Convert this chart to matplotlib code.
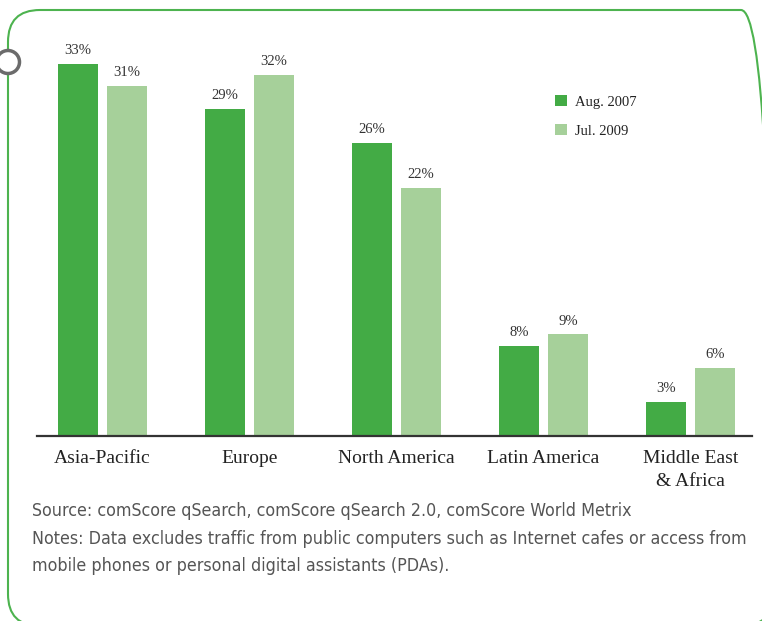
import matplotlib.pyplot as plt
import numpy as np
from matplotlib.patches import FancyBboxPatch, Circle

regions = ['Asia-Pacific', 'Europe', 'North America', 'Latin America', 'Middle East\n& Africa']
aug_2007 = [33, 29, 26, 8, 3]
jul_2009 = [31, 32, 22, 9, 6]
series_names = ['Aug. 2007', 'Jul. 2009']

dark_green = '#43ab45'
light_green = '#a6d09a'
serif = ['Liberation Serif', 'DejaVu Serif']

W, H = 762, 621
fig = plt.figure(figsize=(W / 100, H / 100), dpi=100)

# overlay in pixel units (origin bottom-left) for the frame and the ring
bg = fig.add_axes([0, 0, 1, 1])
bg.set_xlim(0, W)
bg.set_ylim(0, H)
bg.axis('off')
bg.add_patch(FancyBboxPatch((8, H - 626), 765, 616,
                            boxstyle='round,pad=0,rounding_size=32',
                            fill=False, edgecolor='#4db34f', linewidth=1.5))
bg.add_patch(Circle((8, H - 62), 11.5, facecolor='white',
                    edgecolor='#6b6b6b', linewidth=2.5, zorder=5))

# axes: baseline at y=436px, 11.28 px per percent point
px_per_pct = 11.28
ymax = 35
ax = fig.add_axes([37 / W, (H - 436) / H, 715 / W, ymax * px_per_pct / H])
ax.set_ylim(0, ymax)
ax.patch.set_visible(False)

x = np.arange(len(regions))
step = 147
ax.set_xlim((37 - 102.5) / step, (752 - 102.5) / step)
width = 40 / step
off = 24.5 / step

b1 = ax.bar(x - off, aug_2007, width, color=dark_green, label=series_names[0])
b2 = ax.bar(x + off, jul_2009, width, color=light_green, label=series_names[1])

for bars, vals in ((b1, aug_2007), (b2, jul_2009)):
    for r, v in zip(bars, vals):
        ax.annotate(f'{v}%', (r.get_x() + r.get_width() / 2, v),
                    xytext=(0, 5), textcoords='offset points',
                    ha='center', va='bottom', fontsize=10.5,
                    family=serif, color='#333333')

ax.set_xticks(x)
ax.set_xticklabels(regions, family=serif, fontsize=14, color='#222222',
                   linespacing=1.45)
ax.tick_params(axis='x', length=0, pad=10)
ax.set_yticks([])
for s in ('top', 'right', 'left'):
    ax.spines[s].set_visible(False)
ax.spines['bottom'].set_color('#333333')
ax.spines['bottom'].set_linewidth(1.6)

leg = ax.legend(loc='upper left', bbox_to_anchor=(555 / W, 1 - 95 / H),
                bbox_transform=fig.transFigure, frameon=False,
                prop={'family': serif, 'size': 10.5},
                handlelength=0.8, handleheight=0.8, handletextpad=0.6,
                labelspacing=1.05, borderpad=0, borderaxespad=0)
for t in leg.get_texts():
    t.set_color('#222222')

notes = ('Source: comScore qSearch, comScore qSearch 2.0, comScore World Metrix\n'
         'Notes: Data excludes traffic from public computers such as Internet cafes or access from\n'
         'mobile phones or personal digital assistants (PDAs).')
fig.text(32 / W, 1 - 502 / H, notes, ha='left', va='top',
         family=['DejaVu Sans'], fontstretch='condensed',
         fontsize=12.8, color='#555555', linespacing=1.68)

fig.savefig('out.png', dpi=100)
